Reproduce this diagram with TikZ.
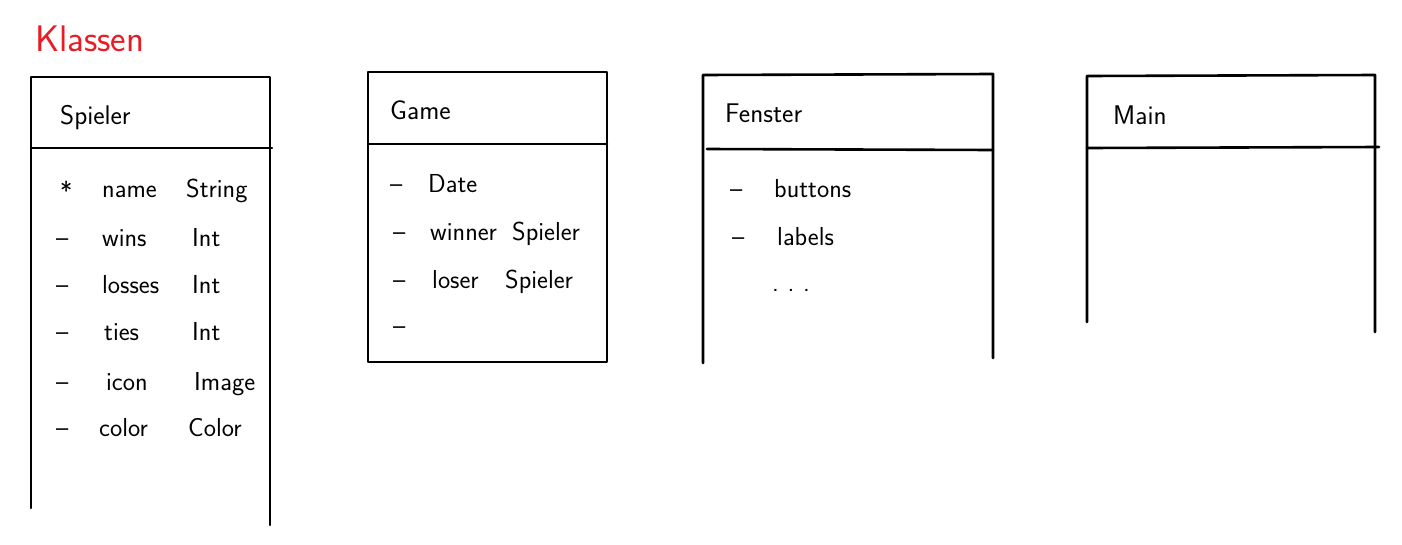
\documentclass[tikz,border=0pt]{standalone}
\usepackage{tikz}

\definecolor{skizzerot}{RGB}{232,28,36}

\begin{document}
\begin{tikzpicture}[x=1pt,y=-1pt,
  box/.style={line width=2.6pt,line cap=round,line join=round},
  hand/.style={font=\sffamily\fontsize{26}{30}\selectfont,anchor=base west,inner sep=0pt},
  titel/.style={hand,font=\sffamily\fontsize{27}{32}\selectfont}]
\useasboundingbox (0,0) rectangle (1402,544);

\node[titel,text=skizzerot,font=\sffamily\fontsize{37}{42}\selectfont] (klassen) at (35,51) {Klassen};

\draw[box] (31,508) -- (31,77) -- (270,77) -- (270,525);
\draw[box] (31,148) -- (272,148);
\node[titel] (spieler) at (60,124) {Spieler};
\node[hand] (s1) at (60,200) {*};
\node[hand] (s1n) at (102,197) {name};
\node[hand] (s1t) at (186,197) {String};
\node[hand] (s2) at (56,246) {--};
\node[hand] (s2n) at (102,246) {wins};
\node[hand] (s2t) at (192,246) {Int};
\node[hand] (s3) at (56,293) {--};
\node[hand] (s3n) at (102,293) {losses};
\node[hand] (s3t) at (192,293) {Int};
\node[hand] (s4) at (56,340) {--};
\node[hand] (s4n) at (104,340) {ties};
\node[hand] (s4t) at (192,340) {Int};
\node[hand] (s5) at (56,390) {--};
\node[hand] (s5n) at (106,390) {icon};
\node[hand] (s5t) at (194,390) {Image};
\node[hand] (s6) at (56,436) {--};
\node[hand] (s6n) at (99,436) {color};
\node[hand] (s6t) at (188,436) {Color};

\draw[box] (368,72) -- (607,72) -- (607,362) -- (368,362) -- cycle;
\draw[box] (368,144) -- (607,144);
\node[titel] (game) at (390,119) {Game};
\node[hand] (g1) at (390,192) {--};
\node[hand] (g1n) at (428,192) {Date};
\node[hand] (g2) at (393,240) {--};
\node[hand] (g2n) at (430,240) {winner};
\node[hand] (g2t) at (512,240) {Spieler};
\node[hand] (g3) at (393,288) {--};
\node[hand] (g3n) at (432,288) {loser};
\node[hand] (g3t) at (505,288) {Spieler};
\node[hand] (g4) at (393,334) {--};

\draw[box] (703,363) -- (703,75) -- (993,74) -- (993,358);
\draw[box] (707,149) -- (993,150);
\node[titel] (fenster) at (725,122) {Fenster};
\node[hand] (f1) at (730,197) {--};
\node[hand] (f1n) at (774,197) {buttons};
\node[hand] (f2) at (732,245) {--};
\node[hand] (f2n) at (777,245) {labels};
\node[hand] (f3n) at (772,291) {.\,\,.\,\,.};

\draw[box] (1087,322) -- (1087,76) -- (1375,75) -- (1375,332);
\draw[box] (1087,148) -- (1379,147);
\node[titel] (main) at (1113,124) {Main};
\end{tikzpicture}
\end{document}
